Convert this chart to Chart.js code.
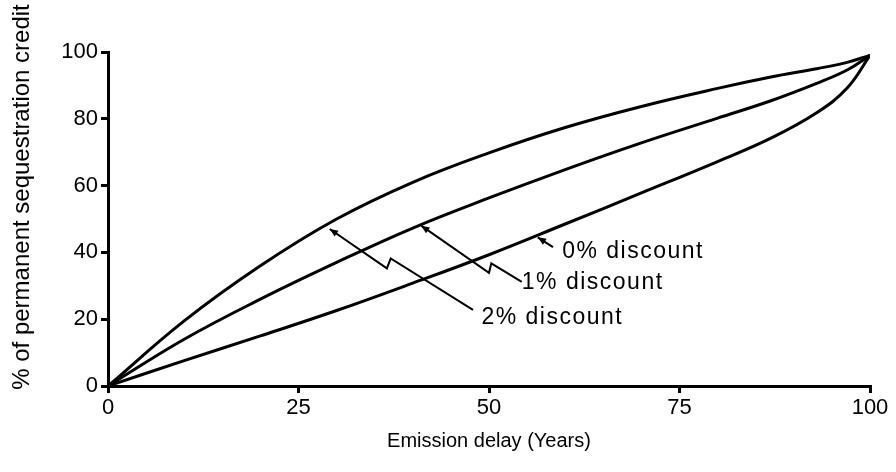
<!DOCTYPE html>
<html>
<head>
<meta charset="utf-8">
<script src="https://cdn.jsdelivr.net/npm/chart.js@4"></script>
<style>
  html, body { margin: 0; padding: 0; background: #fff; }
  #wrap { width: 896px; height: 472px; }
</style>
</head>
<body>
<div id="wrap"><canvas id="credit"></canvas></div>
<script>
// values
const delayYears = [0, 10, 20, 30, 40, 50, 60, 70, 80, 87, 93, 97, 100];
const credit2pct = [0, 19.5, 36.0, 50.0, 61.0, 69.8, 77.4, 83.7, 89.1, 92.5, 95.0, 96.9, 99];
const credit1pct = [0, 14.0, 26.0, 37.0, 47.3, 56.3, 64.8, 72.8, 80.2, 85.4, 90.6, 94.6, 99];
const credit0pct = [0, 7.6, 15.0, 22.6, 30.8, 39.3, 48.5, 57.8, 67.2, 74.2, 81.8, 89.2, 99];

const curveLabels = ['0% discount', '1% discount', '2% discount'];
// leader lines, in data units (first point = arrow tip on the curve)
const leader0 = [[56.4, 44.5], [58.4, 41.6]];
const leader1 = [[41.1, 48], [50.0, 33.9], [50.3, 36.7], [54.3, 31.2]];
const leader2 = [[29.1, 47], [36.6, 35.2], [37.1, 38.2], [47.9, 22.8]];
const labelAt = [[59.6, 40.2], [54.3, 30.8], [49.0, 20.4]];

const FONT = "'Liberation Sans', Arial, sans-serif";

function toPoints(ys) {
    return delayYears.map((x, i) => ({ x: x, y: ys[i] }));
}

const curve = (ys) => ({
    data: toPoints(ys),
    showLine: true,
    borderColor: '#000',
    borderWidth: 3,
    pointRadius: 0,
    tension: 0.4
});

const annotate = {
    id: 'annotate',
    afterDatasetsDraw(chart) {
        const ctx = chart.ctx;
        const xs = chart.scales.x, ys = chart.scales.y;
        const px = (p) => [xs.getPixelForValue(p[0]), ys.getPixelForValue(p[1])];
        ctx.save();
        ctx.strokeStyle = '#000';
        ctx.fillStyle = '#000';
        ctx.lineWidth = 2;
        [leader0, leader1, leader2].forEach(path => {
            const pts = path.map(px);
            ctx.beginPath();
            pts.forEach((p, i) => i ? ctx.lineTo(p[0], p[1]) : ctx.moveTo(p[0], p[1]));
            ctx.stroke();
            // arrow head at the curve end
            const [tx, ty] = pts[0], [bx, by] = pts[1];
            const a = Math.atan2(ty - by, tx - bx);
            ctx.beginPath();
            ctx.moveTo(tx, ty);
            ctx.lineTo(tx - 9 * Math.cos(a - 0.4), ty - 9 * Math.sin(a - 0.4));
            ctx.lineTo(tx - 9 * Math.cos(a + 0.4), ty - 9 * Math.sin(a + 0.4));
            ctx.closePath();
            ctx.fill();
        });
        ctx.font = '23px ' + FONT;
        ctx.letterSpacing = '1.5px';
        ctx.textBaseline = 'middle';
        ctx.textAlign = 'left';
        curveLabels.forEach((t, i) => {
            const [lx, ly] = px(labelAt[i]);
            ctx.fillText(t, lx, ly);
        });
        ctx.letterSpacing = '0px';
        // y axis title
        ctx.translate(22, 197);
        ctx.rotate(-Math.PI / 2);
        ctx.textAlign = 'center';
        ctx.font = '24px ' + FONT;
        ctx.fillText('% of permanent sequestration credit', 0, 0);
        ctx.restore();
    }
};

new Chart(document.getElementById('credit'), {
    type: 'scatter',
    data: {
        datasets: [curve(credit2pct), curve(credit1pct), curve(credit0pct)]
    },
    options: {
        responsive: true,
        maintainAspectRatio: false,
        animation: false,
        layout: { padding: { top: 52, right: 26 } },
        plugins: { legend: { display: false }, tooltip: { enabled: false } },
        scales: {
            x: {
                type: 'linear',
                min: 0,
                max: 100,
                afterFit: (s) => { s.height = 86; },
                border: { display: true, color: '#000', width: 3 },
                grid: { drawOnChartArea: false, drawTicks: true, tickLength: 7, color: '#000', lineWidth: 3 },
                ticks: { stepSize: 25, color: '#000', padding: 2, font: { family: FONT, size: 22 } },
                title: {
                    display: true,
                    text: 'Emission delay (Years)',
                    color: '#000',
                    font: { family: FONT, size: 20 },
                    padding: { top: 0, bottom: 19 }
                }
            },
            y: {
                min: 0,
                max: 100,
                afterFit: (s) => { s.width = 108; },
                border: { display: true, color: '#000', width: 3 },
                grid: { drawOnChartArea: false, drawTicks: true, tickLength: 7, color: '#000', lineWidth: 3 },
                ticks: { stepSize: 20, color: '#000', padding: 3, font: { family: FONT, size: 22 } }
            }
        }
    },
    plugins: [annotate]
});
</script>
</body>
</html>
